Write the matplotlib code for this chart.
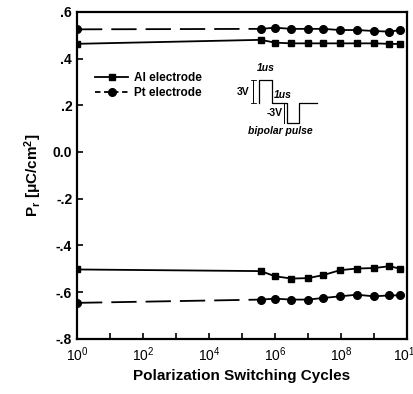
import numpy as np
import matplotlib
matplotlib.use("Agg")
import matplotlib.pyplot as plt
from matplotlib.ticker import NullFormatter

plt.rcParams['font.family'] = ['Liberation Sans', 'DejaVu Sans']
plt.rcParams['mathtext.fontset'] = 'custom'
plt.rcParams['mathtext.rm'] = 'Liberation Sans'
plt.rcParams['mathtext.it'] = 'Liberation Sans:italic'
plt.rcParams['mathtext.bf'] = 'Liberation Sans:bold'

# switching cycles (log10), first point is the virgin state at 10^0
log_cycles = [0, 5.57, 6.0, 6.5, 7.0, 7.47, 7.97, 8.48, 9.0, 9.47, 9.8]
cycles = [10 ** c for c in log_cycles]

al_pos = [0.463, 0.48, 0.468, 0.465, 0.465, 0.465, 0.465, 0.465, 0.465, 0.463, 0.462]
pt_pos = [0.525, 0.527, 0.532, 0.527, 0.527, 0.527, 0.522, 0.522, 0.518, 0.515, 0.522]
al_neg = [-0.503, -0.51, -0.532, -0.542, -0.54, -0.527, -0.506, -0.499, -0.497, -0.489, -0.50]
pt_neg = [-0.646, -0.632, -0.628, -0.632, -0.632, -0.625, -0.618, -0.611, -0.618, -0.614, -0.614]

ytick_vals = [0.6, 0.4, 0.2, 0.0, -0.2, -0.4, -0.6, -0.8]
ytick_labels = ['.6', '.4', '.2', '0.0', '-.2', '-.4', '-.6', '-.8']

fig = plt.figure(figsize=(4.14, 3.94), dpi=100)
ax = fig.add_axes([0.186, 0.14, 0.797, 0.83])

for al in (al_pos, al_neg):
    ax.plot(cycles, al, '-', color='black', lw=1.3)
    ax.plot(cycles, al, 's', color='black', ms=5)
for pt in (pt_pos, pt_neg):
    ax.plot(cycles[:2], pt[:2], color='black', lw=1.3, dashes=(14, 5))
    ax.plot(cycles[1:], pt[1:], '-', color='black', lw=1.3)
    ax.plot(cycles, pt, 'o', color='black', ms=5.5)

# legend proxies
ax.plot([], [], '-s', color='black', lw=1.3, ms=5, label='Al electrode')
ax.plot([], [], '--o', color='black', lw=1.3, ms=5.5, dashes=(3, 2), label='Pt electrode')
handles, labels = ax.get_legend_handles_labels()
leg = ax.legend(handles[-2:], labels[-2:], loc='upper left', bbox_to_anchor=(0.03, 0.84),
                frameon=False, prop={'weight': 'bold', 'size': 8.5},
                handlelength=2.8, handletextpad=0.5, labelspacing=0.25, borderpad=0.2)

# bipolar pulse schematic
tr = ax.transAxes
px = [0.552, 0.552, 0.590, 0.590, 0.635, 0.635, 0.674, 0.674, 0.726]
py = [0.721, 0.790, 0.790, 0.721, 0.721, 0.660, 0.660, 0.721, 0.721]
ax.plot(px, py, color='black', lw=0.9, transform=tr)
ax.plot([0.534, 0.534], [0.721, 0.790], color='black', lw=0.7, transform=tr)
ax.plot([0.526, 0.542], [0.790, 0.790], color='black', lw=0.6, transform=tr)
ax.plot([0.526, 0.542], [0.721, 0.721], color='black', lw=0.6, transform=tr)
ax.plot([0.628, 0.628], [0.660, 0.721], color='black', lw=0.7, transform=tr)
ax.text(0.572, 0.828, '1us', transform=tr, ha='center', va='center',
        fontsize=7.5, weight='bold', style='italic')
ax.text(0.502, 0.755, '3V', transform=tr, ha='center', va='center',
        fontsize=7.5, weight='bold')
ax.text(0.625, 0.745, '1us', transform=tr, ha='center', va='center',
        fontsize=7.5, weight='bold', style='italic')
ax.text(0.600, 0.690, '-3V', transform=tr, ha='center', va='center',
        fontsize=7.5, weight='bold')
ax.text(0.615, 0.635, 'bipolar pulse', transform=tr, ha='center', va='center',
        fontsize=7.5, weight='bold', style='italic')

ax.set_xscale('log')
ax.set_xlim(1, 1e10)
ax.set_ylim(-0.8, 0.6)
ax.set_xticks([10 ** k for k in range(0, 11, 2)])
ax.set_xticklabels(['$10^{%d}$' % k for k in range(0, 11, 2)], fontsize=10)
ax.set_xticks([10 ** k for k in range(1, 11, 2)], minor=True)
ax.xaxis.set_minor_formatter(NullFormatter())
ax.set_yticks(ytick_vals)
ax.set_yticklabels(ytick_labels, fontsize=10, weight='bold')
ax.tick_params(which='both', direction='in', width=1.2, length=4, top=False, right=False)
ax.tick_params(axis='x', pad=5)
for s in ax.spines.values():
    s.set_linewidth(1.6)

ax.set_xlabel('Polarization Switching Cycles', fontsize=11, weight='bold', labelpad=3)
ax.set_ylabel(r'P$_\mathbf{r}$ [$\mathbf{\mu}$C/cm$^\mathbf{2}$]', fontsize=11, weight='bold', labelpad=6)

fig.savefig('out.png', dpi=100)
